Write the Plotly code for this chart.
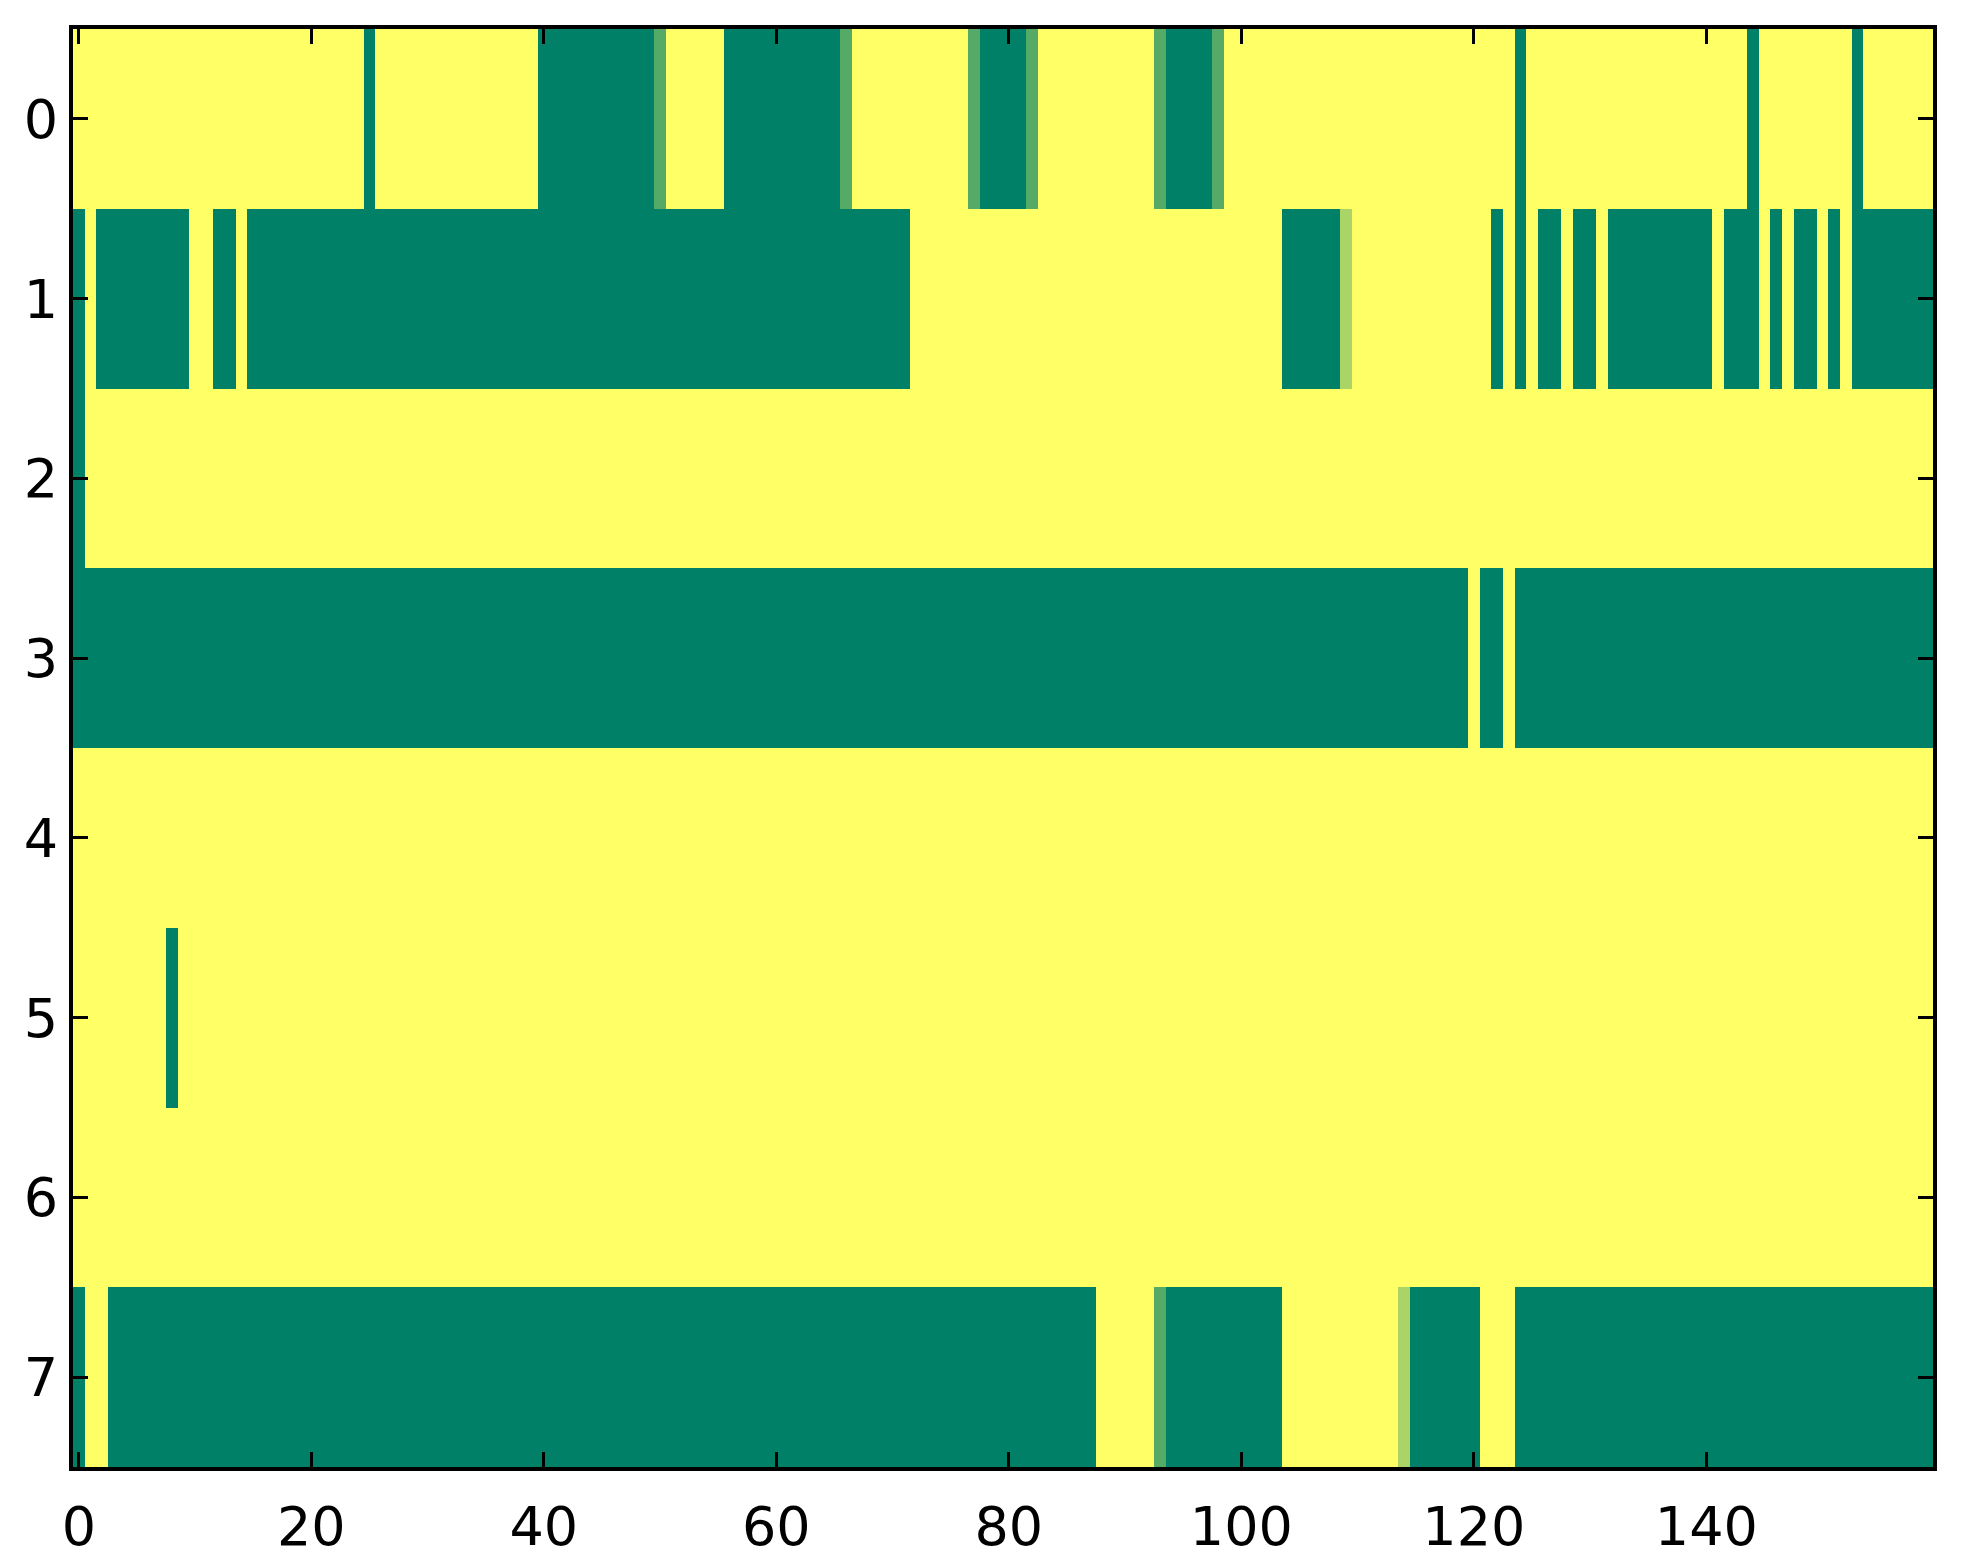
import plotly.graph_objects as go

# Cell values, written as (value, run length) per row
row0 = [(1, 25), (0, 1), (1, 14), (0, 10), (1/3, 1), (1, 5), (0, 10), (1/3, 1),
        (1, 10), (1/3, 1), (0, 4), (1/3, 1), (1, 10), (1/3, 1), (0, 4), (1/3, 1),
        (1, 25), (0, 1), (1, 19), (0, 1), (1, 8), (0, 1), (1, 6)]
row1 = [(0, 1), (1, 1), (0, 8), (1, 2), (0, 2), (1, 1), (0, 57), (1, 32), (0, 5),
        (2/3, 1), (1, 12), (0, 1), (1, 1), (0, 1), (1, 1), (0, 2), (1, 1), (0, 2),
        (1, 1), (0, 9), (1, 1), (0, 3), (1, 1), (0, 1), (1, 1), (0, 2), (1, 1),
        (0, 1), (1, 1), (0, 7)]
row2 = [(0, 1), (1, 159)]
row3 = [(0, 120), (1, 1), (0, 2), (1, 1), (0, 36)]
row4 = [(1, 160)]
row5 = [(1, 8), (0, 1), (1, 151)]
row6 = [(1, 160)]
row7 = [(0, 1), (1, 2), (0, 85), (1, 5), (1/3, 1), (0, 10), (1, 10), (2/3, 1),
        (0, 6), (1, 3), (0, 36)]

rows = [row0, row1, row2, row3, row4, row5, row6, row7]
n_cols = 160
x_ticks = [0, 20, 40, 60, 80, 100, 120, 140]
y_ticks = [0, 1, 2, 3, 4, 5, 6, 7]


def expand(runs):
    out = []
    for v, n in runs:
        out.extend([v] * n)
    return out


z = [expand(r) for r in rows]

fig = go.Figure(go.Heatmap(
    z=z,
    x=list(range(n_cols)),
    y=list(range(len(rows))),
    colorscale=[[0, '#008066'], [1, '#ffff66']],
    zmin=0, zmax=1,
    showscale=False,
    hoverongaps=False,
))

axis_common = dict(
    showline=True, linewidth=4, linecolor='black', mirror='ticks',
    ticks='inside', ticklen=15, tickwidth=3, tickcolor='black',
    showgrid=False, zeroline=False,
    tickfont=dict(family='DejaVu Sans', size=54, color='black'),
)

fig.update_layout(
    width=1963, height=1564,
    margin=dict(l=65, r=38, t=21, b=105),
    paper_bgcolor='white', plot_bgcolor='white',
    xaxis=dict(range=[-0.5, n_cols - 0.5], tickvals=x_ticks,
               ticklabelstandoff=9, **axis_common),
    yaxis=dict(range=[len(rows) - 0.5, -0.5], tickvals=y_ticks,
               ticklabelstandoff=0, **axis_common),
)

fig.write_html("out.html")
